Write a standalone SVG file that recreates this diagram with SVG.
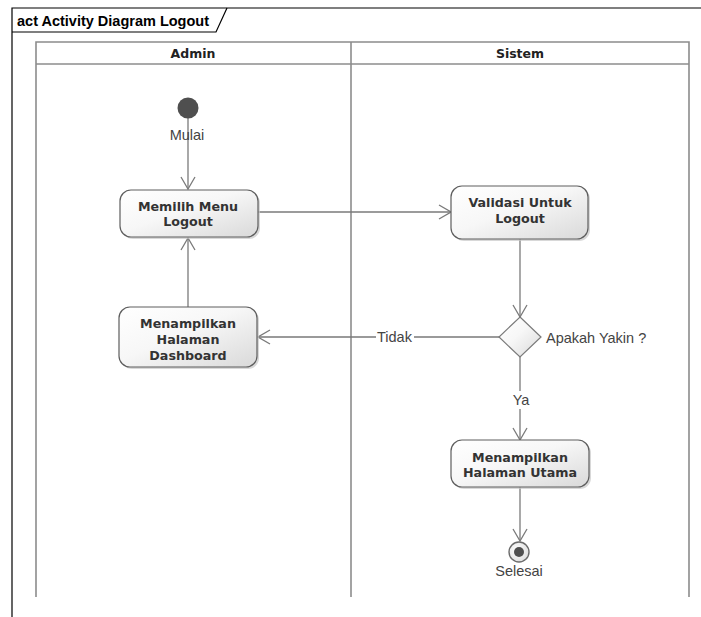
<svg xmlns="http://www.w3.org/2000/svg" width="701" height="617" viewBox="0 0 701 617">
  <style>
    .frame { fill: none; stroke: #000; stroke-width: 1.2; }
    .lane { fill: none; stroke: #8c8c8c; stroke-width: 1.6; }
    .act { fill: url(#actFill); stroke: #5e5e5e; stroke-width: 1.2; }
    .shadow { fill: #c8c8c8; opacity: 0.7; }
    .edge { fill: none; stroke: #7a7a7a; stroke-width: 1.3; }
    .title { font-family: "Liberation Sans", Arial, sans-serif; font-weight: bold; font-size: 14.5px; fill: #000; }
    .head { font-family: "DejaVu Sans", Verdana, sans-serif; font-weight: bold; font-size: 12.5px; fill: #222; text-anchor: middle; }
    .nodeText { font-family: "DejaVu Sans", Verdana, sans-serif; font-weight: bold; font-size: 12.7px; fill: #333; text-anchor: middle; }
    .label { font-family: "Liberation Sans", Arial, sans-serif; font-size: 14.5px; fill: #444; }
  </style>
  <defs>
    <linearGradient id="actFill" x1="0" y1="0" x2="1" y2="1">
      <stop offset="0" stop-color="#ffffff"/>
      <stop offset="0.45" stop-color="#f7f7f7"/>
      <stop offset="1" stop-color="#d9d9d9"/>
    </linearGradient>
    <radialGradient id="finalFill" cx="0.4" cy="0.4" r="0.7">
      <stop offset="0" stop-color="#ffffff"/>
      <stop offset="1" stop-color="#dcdcdc"/>
    </radialGradient>
    <marker id="open" viewBox="0 0 14 16" refX="13" refY="8" markerWidth="14" markerHeight="16" markerUnits="userSpaceOnUse" orient="auto">
      <path d="M1,1 L13,8 L1,15" fill="none" stroke="#7a7a7a" stroke-width="1.3"/>
    </marker>
  </defs>

  <rect width="701" height="617" fill="#ffffff"/>

  <!-- diagram frame with name tab -->
  <g id="frame">
    <path class="frame" d="M701,8 H12 V617"/>
    <path class="frame" d="M12,32 H216 L227,8"/>
    <text class="title" x="17" y="26">act Activity Diagram Logout</text>
  </g>

  <!-- swimlanes -->
  <g id="lanes">
    <path class="lane" d="M36,597 V42 H689 V597"/>
    <line class="lane" x1="36" y1="64" x2="689" y2="64"/>
    <line class="lane" x1="351" y1="42" x2="351" y2="597"/>
    <text class="head" x="193" y="58">Admin</text>
    <text class="head" x="520" y="58">Sistem</text>
  </g>

  <!-- connectors -->
  <g id="connectors">
    <line class="edge" x1="188" y1="118" x2="188" y2="189" marker-end="url(#open)"/>
    <line class="edge" x1="258" y1="212" x2="451" y2="212" marker-end="url(#open)"/>
    <line class="edge" x1="520" y1="239" x2="520" y2="317" marker-end="url(#open)"/>
    <path class="edge" d="M499,337 H414 M376,337 H258" marker-end="url(#open)"/>
    <line class="edge" x1="188" y1="307" x2="188" y2="238" marker-end="url(#open)"/>
    <path class="edge" d="M520,356 V391 M520,409 V440" marker-end="url(#open)"/>
    <line class="edge" x1="520" y1="487" x2="520" y2="541" marker-end="url(#open)"/>
    <text class="label" x="377" y="342">Tidak</text>
    <text class="label" x="521" y="405" text-anchor="middle">Ya</text>
  </g>

  <!-- start node -->
  <g id="start">
    <circle cx="188" cy="108" r="10.5" fill="#4f4f4f"/>
    <text class="label" x="187" y="140" text-anchor="middle">Mulai</text>
  </g>

  <g id="memilihMenuLogout">
    <rect class="shadow" x="122" y="192" width="138" height="47" rx="11"/>
    <rect class="act" x="120" y="190" width="138" height="47" rx="11"/>
    <text class="nodeText" x="188" y="211">Memilih Menu</text>
    <text class="nodeText" x="188" y="226">Logout</text>
  </g>

  <g id="menampilkanDashboard">
    <rect class="shadow" x="121" y="309" width="138" height="60" rx="11"/>
    <rect class="act" x="119" y="307" width="138" height="60" rx="11"/>
    <text class="nodeText" x="188" y="328">Menampilkan</text>
    <text class="nodeText" x="188" y="344">Halaman</text>
    <text class="nodeText" x="188" y="360">Dashboard</text>
  </g>

  <g id="validasiLogout">
    <rect class="shadow" x="453" y="188" width="137" height="53" rx="11"/>
    <rect class="act" x="451" y="186" width="137" height="53" rx="11"/>
    <text class="nodeText" x="520" y="207">Validasi Untuk</text>
    <text class="nodeText" x="520" y="223">Logout</text>
  </g>

  <g id="apakahYakin">
    <path d="M520,317 L541,337 L520,357 L499,337 Z" fill="url(#actFill)" stroke="#7a7a7a" stroke-width="1.2"/>
    <text class="label" x="546" y="343">Apakah Yakin ?</text>
  </g>

  <g id="menampilkanUtama">
    <rect class="shadow" x="453" y="442" width="138" height="47" rx="11"/>
    <rect class="act" x="451" y="440" width="138" height="47" rx="11"/>
    <text class="nodeText" x="520" y="462">Menampilkan</text>
    <text class="nodeText" x="520" y="477">Halaman Utama</text>
  </g>

  <!-- final node -->
  <g id="selesai">
    <circle cx="519" cy="552" r="10" fill="url(#finalFill)" stroke="#6b6b6b" stroke-width="1.4"/>
    <circle cx="519" cy="552" r="5" fill="#4f4f4f"/>
    <text class="label" x="519" y="576" text-anchor="middle">Selesai</text>
  </g>
</svg>
